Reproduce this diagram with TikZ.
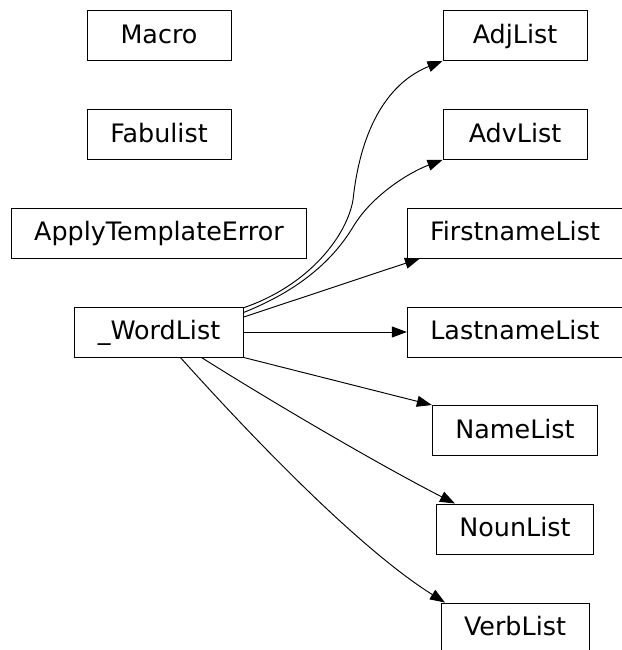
\documentclass[tikz,border=0pt]{standalone}
\usepackage{fontspec}
\setmainfont{DejaVu Sans}
\usepackage{tikz}
\usetikzlibrary{arrows.meta}

\begin{document}
\begin{tikzpicture}[x=1pt,y=1pt,
  cls/.style={draw,line width=0.95pt,minimum width=144pt,minimum height=50pt,inner xsep=23pt,
    text height=19.3pt,text depth=3.7pt,font=\fontsize{25.4}{30}\selectfont},
  dep/.style={line width=0.95pt,-{Triangle[length=15pt,width=11pt]}}]
\useasboundingbox (0,0) rectangle (621,650);
\node[cls] (mac) at (159,614.5) {Macro};
\node[cls] (fab) at (159,515.5) {Fabulist};
\node[cls] (ate) at (159,417) {ApplyTemplateError};
\node[cls] (wl) at (159,318) {\_WordList};
\node[cls] (adj) at (515,614.5) {AdjList};
\node[cls] (adv) at (515,515.5) {AdvList};
\node[cls] (fst) at (515,417) {FirstnameList};
\node[cls] (lst) at (515,318) {LastnameList};
\node[cls] (nam) at (515,219.5) {NameList};
\node[cls] (nou) at (515,121) {NounList};
\node[cls] (vrb) at (515,22) {VerbList};
\draw[dep] (wl.16) .. controls (310,365) and (347,415) .. (353,450) .. controls (361,525) and (390,568) .. (adj.south west);
\draw[dep] (wl.13) .. controls (300,360) and (333,390) .. (353,423) .. controls (372,455) and (410,478) .. (adv.south west);
\draw[dep] (wl.10) -- (fst.195);
\draw[dep] (wl.east) -- (lst.west);
\draw[dep] (wl.south east) -- (nam.north west);
\draw[dep] (wl.329) .. controls (280,243) and (387,181) .. (nou.157);
\draw[dep] (wl.310) .. controls (250,215) and (358,102) .. (vrb.160);
\end{tikzpicture}
\end{document}
